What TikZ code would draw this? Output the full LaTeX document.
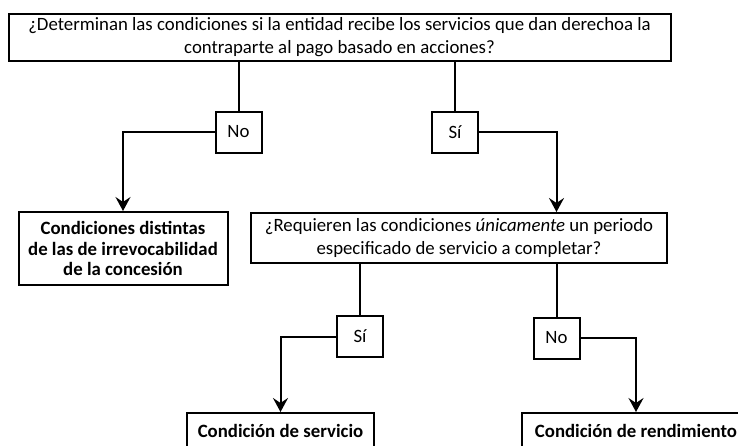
\documentclass[tikz,border=0pt]{standalone}
\usepackage{fontspec}
\setmainfont{Carlito}
\usetikzlibrary{arrows.meta}

\begin{document}
\begin{tikzpicture}[
  x=1pt, y=-1pt,
  box/.style={rectangle, draw, line width=2pt, align=center, inner sep=0pt, font=\fontsize{18.8}{22.5}\selectfont},
  answer/.style={box, minimum width=46pt, minimum height=41pt},
  result/.style={box, font=\fontsize{18.8}{20.5}\selectfont\bfseries},
  link/.style={line width=2pt},
  arrowlink/.style={link, -{Stealth[length=14pt,width=15pt,inset=5pt]}}
]
\useasboundingbox (0,0) rectangle (738,445);

\node[box, minimum width=662pt, minimum height=47pt] (q1) at (339.5,37) {¿Determinan las condiciones si la entidad recibe los servicios que dan derechoa la\\contraparte al pago basado en acciones?};
\node[answer] (no1) at (238.5,132) {No};
\node[answer] (si1) at (455,132) {Sí};
\node[result, minimum width=209pt, minimum height=73pt] (other) at (123,248.5) {Condiciones distintas\\de las de irrevocabilidad\\de la concesión};
\node[box, minimum width=416pt, minimum height=50pt] (q2) at (459,238) {¿Requieren las condiciones \textit{únicamente} un periodo\\especificado de servicio a completar?};
\node[answer] (si2) at (360,336.5) {Sí};
\node[answer] (no2) at (556.5,338) {No};
\node[result, minimum width=187pt, minimum height=36pt] (service) at (280.5,431) {Condición de servicio};
\node[result, minimum width=228pt, minimum height=36pt] (perf) at (636,431) {Condición de rendimiento};

\draw[link] (q1.south -| no1) -- (no1);
\draw[link] (q1.south -| si1) -- (si1);
\draw[arrowlink] (no1.west) -| (other.north);
\draw[arrowlink] (si1.east) -| (q2.north -| no2);
\draw[link] (q2.south -| si2) -- (si2);
\draw[link] (q2.south -| no2) -- (no2);
\draw[arrowlink] (si2.west) -| (service.north);
\draw[arrowlink] (no2.east) -| (perf.north);
\end{tikzpicture}
\end{document}
